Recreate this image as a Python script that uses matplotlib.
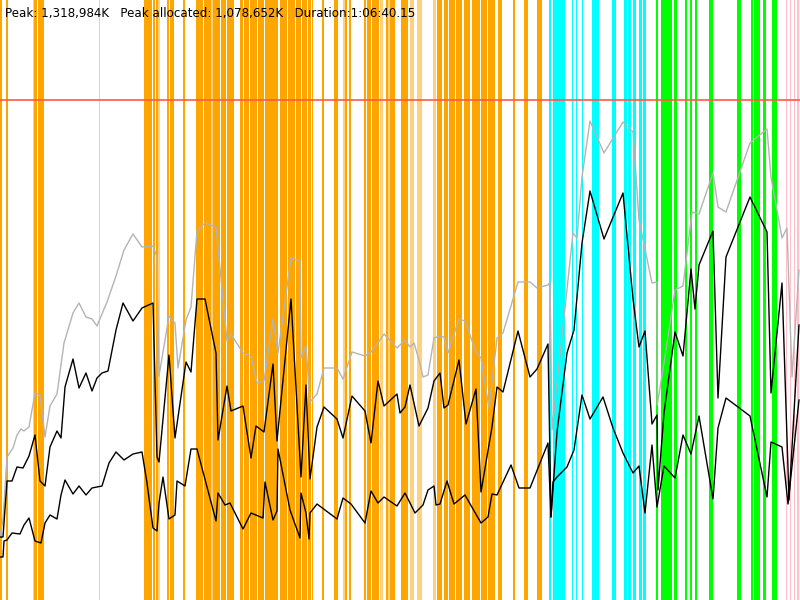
import numpy as np
import matplotlib
matplotlib.use("Agg")
import matplotlib.pyplot as plt

# memory samples: time in seconds, memory in MB
bottom_t = [0, 15, 20, 35, 60, 100, 120, 145, 175, 205,
            225, 250, 285, 305, 325, 365, 395, 430, 460, 485,
            510, 545, 580, 620, 665, 710, 735, 765, 785, 795,
            815, 845, 875, 885, 925, 955, 985, 1080, 1090, 1125,
            1150, 1215, 1255, 1315, 1325, 1365, 1385, 1390, 1450, 1500,
            1505, 1530, 1545, 1550, 1585, 1685, 1715, 1755, 1825, 1855,
            1890, 1920, 1985, 2025, 2075, 2115, 2140, 2170, 2180, 2200,
            2235, 2270, 2325, 2405, 2440, 2460, 2485, 2555, 2595, 2650,
            2740, 2755, 2765, 2785, 2835, 2870, 2910, 2950, 3015, 3065,
            3115, 3165, 3195, 3225, 3260, 3285, 3320, 3375, 3415, 3455,
            3495, 3565, 3590, 3630, 3750, 3835, 3855, 3910, 3940, 3995]
bottom_mb = [86, 86, 118, 120, 134, 132, 150, 164, 118, 114,
             154, 170, 162, 210, 240, 212, 228, 210, 224, 226,
             228, 274, 296, 280, 292, 296, 234, 144, 138, 194,
             246, 162, 170, 238, 228, 302, 302, 158, 214, 190,
             194, 142, 174, 164, 236, 160, 178, 302, 180, 124,
             214, 174, 122, 174, 192, 162, 204, 192, 154, 218,
             194, 206, 188, 214, 174, 190, 220, 228, 190, 192,
             238, 192, 210, 154, 166, 212, 210, 270, 224, 224,
             314, 166, 236, 246, 266, 300, 410, 362, 406, 344,
             294, 254, 268, 174, 310, 186, 268, 244, 330, 292,
             368, 202, 344, 404, 368, 206, 316, 306, 192, 400]

used_t = [0, 15, 35, 60, 85, 115, 145, 175, 200, 225,
          250, 285, 305, 325, 365, 395, 430, 460, 485, 510,
          540, 580, 615, 665, 710, 765, 785, 795, 845, 875,
          930, 955, 985, 1025, 1080, 1090, 1135, 1155, 1215, 1255,
          1280, 1320, 1365, 1385, 1455, 1505, 1530, 1550, 1585, 1620,
          1685, 1715, 1760, 1825, 1855, 1890, 1920, 1985, 2000, 2025,
          2050, 2095, 2140, 2170, 2200, 2220, 2240, 2295, 2330, 2380,
          2405, 2460, 2485, 2515, 2590, 2650, 2685, 2740, 2755, 2785,
          2835, 2870, 2910, 2950, 3020, 3115, 3165, 3195, 3225, 3260,
          3285, 3290, 3320, 3375, 3415, 3455, 3475, 3495, 3565, 3590,
          3630, 3750, 3835, 3855, 3910, 3945, 3995]
used_mb = [126, 126, 238, 238, 266, 264, 288, 330, 238, 228,
           306, 338, 324, 426, 482, 424, 454, 418, 444, 454,
           458, 540, 594, 558, 584, 594, 286, 276, 490, 324,
           476, 456, 602, 602, 494, 320, 428, 378, 388, 284,
           348, 336, 472, 318, 602, 246, 430, 242, 346, 386,
           362, 324, 408, 378, 314, 438, 388, 412, 374, 386,
           430, 348, 384, 438, 454, 384, 390, 480, 352, 422,
           216, 346, 426, 416, 538, 446, 462, 512, 166, 336,
           494, 540, 714, 818, 722, 814, 602, 506, 538, 352,
           370, 220, 374, 536, 488, 662, 582, 670, 738, 404,
           686, 806, 736, 414, 634, 200, 550]

alloc_t = [0, 15, 35, 65, 85, 105, 120, 145, 175, 200,
           225, 250, 285, 320, 365, 395, 430, 460, 485, 535,
           580, 620, 665, 710, 765, 785, 795, 845, 875, 890,
           930, 955, 985, 1025, 1080, 1135, 1155, 1215, 1255, 1285,
           1320, 1365, 1390, 1455, 1500, 1505, 1530, 1550, 1585, 1620,
           1685, 1715, 1760, 1825, 1855, 1890, 1920, 1985, 2025, 2050,
           2070, 2095, 2115, 2140, 2170, 2200, 2220, 2240, 2295, 2325,
           2380, 2405, 2445, 2485, 2515, 2590, 2650, 2685, 2740, 2750,
           2760, 2865, 2885, 2910, 2950, 3020, 3115, 3165, 3195, 3260,
           3285, 3286, 3320, 3375, 3415, 3460, 3495, 3565, 3590, 3630,
           3750, 3835, 3855, 3910, 3935, 3960, 3995]
alloc_mb = [126, 160, 286, 304, 330, 342, 338, 346, 414, 410,
            326, 388, 412, 514, 574, 594, 566, 562, 548, 596,
            648, 700, 732, 706, 708, 686, 448, 568, 554, 464,
            560, 586, 738, 754, 746, 518, 532, 494, 488, 434,
            438, 562, 494, 684, 678, 484, 508, 396, 412, 464,
            464, 442, 496, 488, 496, 514, 532, 504, 520, 506,
            514, 480, 446, 450, 524, 528, 526, 494, 562, 558,
            496, 484, 384, 524, 534, 636, 636, 624, 630, 636,
            340, 734, 724, 846, 958, 894, 956, 936, 760, 634,
            636, 390, 474, 620, 628, 776, 772, 854, 786, 776,
            914, 942, 846, 724, 744, 446, 660]

heap_limit_mb = 1000

# gc events: (start s, end s)
young_gc = [(0, 10), (30, 38), (170, 185), (190, 220), (720, 760), (765, 775),
            (780, 790), (835, 845), (850, 858), (860, 870), (915, 925),
            (980, 1015), (1020, 1055), (1065, 1100), (1105, 1130), (1135, 1170),
            (1200, 1215), (1220, 1245), (1250, 1285), (1290, 1320), (1325, 1390),
            (1400, 1435), (1440, 1475), (1480, 1505), (1510, 1535), (1540, 1555),
            (1560, 1565), (1610, 1620), (1670, 1690), (1725, 1735), (1745, 1755),
            (1820, 1830), (1835, 1855), (1860, 1895), (1930, 1940), (1950, 1975),
            (2005, 2040), (2185, 2210), (2220, 2240), (2245, 2275), (2280, 2310),
            (2320, 2350), (2360, 2400), (2405, 2435), (2440, 2475), (2490, 2510),
            (2565, 2575), (2620, 2640), (2685, 2710)]
young_gc_minor = [(165, 170), (495, 500), (790, 800), (1055, 1065), (1715, 1725),
                  (1900, 1915), (1940, 1950), (2050, 2070), (2085, 2110), (2165, 2180)]
mixed_gc = [(2745, 2755), (2765, 2825), (2860, 2865), (2880, 2885), (2910, 2915),
            (2960, 2995), (3060, 3080), (3120, 3135), (3140, 3155), (3165, 3180),
            (3195, 3210), (3215, 3230)]
full_gc = [(3280, 3290), (3305, 3360), (3370, 3385), (3425, 3435), (3450, 3460),
           (3475, 3485), (3545, 3565), (3685, 3705), (3755, 3765), (3770, 3800),
           (3815, 3830), (3860, 3885)]
other_gc = [(3930, 3935), (3950, 3955), (3970, 3975), (3985, 3995)]

duration_s = 4000
y_top = 1200

fig = plt.figure(figsize=(8, 6), dpi=100)
ax = fig.add_axes([0, 0, 1, 1])


def draw_events(events, color, alpha=1.0):
    starts = [s for s, e in events]
    widths = [e - s for s, e in events]
    ax.bar(starts, [y_top] * len(starts), width=widths, align='edge',
           color=color, alpha=alpha, linewidth=0, zorder=1)


draw_events(young_gc, '#ffa500')
draw_events(young_gc_minor, '#ffa500', alpha=0.5)
draw_events(mixed_gc, '#00ffff')
draw_events(full_gc, '#00ff00')
draw_events(other_gc, '#ffc0cb')

ax.axhline(heap_limit_mb, color='#ff5a46', linewidth=1.2, zorder=3)
ax.plot(alloc_t, alloc_mb, color='#b4b4b4', linewidth=1.0, zorder=4)
ax.plot(used_t, used_mb, color='black', linewidth=1.0, zorder=5)
ax.plot(bottom_t, bottom_mb, color='black', linewidth=1.0, zorder=5)

ax.set_xlim(0, duration_s)
ax.set_ylim(0, y_top)
ax.axis('off')

fig.text(5 / 800, 1 - 13 / 600,
         "Peak: 1,318,984K   Peak allocated: 1,078,652K   Duration:1:06:40.15",
         fontsize=8.6, va='center', ha='left', color='black', zorder=10)

fig.savefig('out.png', dpi=100)
